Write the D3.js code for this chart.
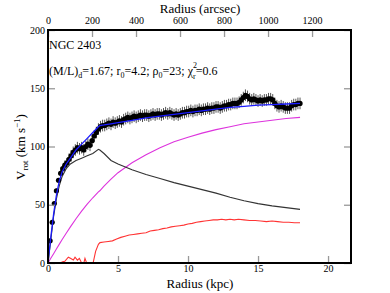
<!DOCTYPE html>
<html><head><meta charset="utf-8">
<script src="https://cdn.jsdelivr.net/npm/d3@7"></script>
<style>body{margin:0;background:#fff}svg{display:block}text{font-family:"Liberation Serif","Times New Roman",serif;fill:#000}</style>
</head><body><svg id="c" width="390" height="293"></svg>
<script>
// Observed rotation curve (kpc, km/s, error)
const obsR = [0.15,0.30,0.45,0.60,0.75,0.90,1.05,1.20,1.35,1.50,1.65,1.80,1.95,2.10,2.25,2.40,2.55,2.70,2.85,3.00,
3.15,3.30,3.45,3.60,3.75,3.90,4.05,4.20,4.35,4.50,4.65,4.80,4.95,5.10,5.25,5.40,5.55,5.70,5.85,6.00,
6.15,6.30,6.45,6.60,6.75,6.90,7.05,7.20,7.35,7.50,7.65,7.80,7.95,8.10,8.25,8.40,8.55,8.70,8.85,9.00,
9.15,9.30,9.45,9.60,9.75,9.90,10.05,10.20,10.35,10.50,10.65,10.80,10.95,11.10,11.25,11.40,11.55,11.70,11.85,12.00,
12.15,12.30,12.45,12.60,12.75,12.90,13.05,13.20,13.35,13.50,13.65,13.80,13.95,14.10,14.25,14.40,14.55,14.70,14.85,15.00,
15.15,15.30,15.45,15.60,15.75,15.90,16.05,16.20,16.35,16.50,16.65,16.80,16.95,17.10,17.25,17.40,17.55,17.70,17.85,18.00];
const obsV = [19,35,51,62,71,77,81,84,86,89,92,95,97,99,98,99,97,100,102,101,
105,109,112,115,117,118,118,119,120,119,121,120,121,122,121,123,124,125,124,125,
126,125,126,127,126,127,127,126,127,128,127,128,128,127,128,129,128,129,128,127,
128,127,128,129,129,130,130,131,130,131,131,132,131,132,132,133,132,133,133,134,
134,133,134,135,135,136,136,137,137,137,138,140,142,144,143,141,140,141,140,139,
140,139,140,140,141,141,140,137,135,134,135,134,133,133,133,135,136,136,137,137];
const obsE = [2,2,2,2,2,3,3,4,4,5,5,5,5,5,5,5,5,5,5,5,
5,5,5,5,5,5,5,5,5,5,5,5,5,5,5,5,5,5,5,5,
5,5,5,5,5,5,5,5,5,5,5,5,5,5,5,5,5,5,5,5,
5,5,5,5,5,5,5,5,5,5,5,5,5,5,5,5,5,5,5,5,
5,5,5,5,5,5,5,5,5,5,5,5,5,5,5,5,5,5,5,5,
5,5,5,5,5,5,5,5,5,5,5,5,5,5,5,5,5,5,5,5];

// Model components
const modR  = [0,0.2,0.4,0.6,0.8,1.0,1.3,1.6,2.0,2.4,2.8,3.2,3.6,3.7,4.0,4.5,5,6,7,8,9,10,11,12,13,14,15,16,17,18];
const totV  = [0,22,42,58,70,78,85,90,97,102,107,112,117,118,118.5,119.5,120.5,122.5,124.5,126,127.5,129,130.5,132,133.5,134.5,135.5,136,136.5,137];
const diskV = [0,20,40,55,66,74,81,85,88,90,92,94,97.6,97,94,88,85,80,76,72.5,69,66,63,60,56.5,53.5,51,49,47.5,46];
const haloV = [0,4,8,12,16,20,25.5,31,38,44.5,50.5,56,61,62,66,72,77.5,86,93,99,104,108,111.5,114.5,117,119.5,121,122.5,124,125];

const gasR = [0.2,0.3,0.5,0.55,0.9,1.0,1.2,1.45,1.6,1.81,1.93,2.1,2.24,2.4,2.5,2.64,2.76,2.85,3.15,3.24,3.4,3.6,3.71,4.0,4.3,4.6,4.9,5.2,5.5,5.8,6.1,6.4,6.7,7.0,7.3,7.6,7.9,8.2,8.5,8.8,9.1,9.4,9.7,10.0,10.3,10.6,10.9,11.2,11.5,11.8,12.1,12.4,12.7,13.0,13.3,13.6,14.0,14.4,14.8,15.2,15.6,16.0,16.4,16.8,17.2,17.6,18.0];
const gasV = [-3,0.4,0.4,-3,-3,0.8,1.5,5,4,2.6,5,2.5,4,0,-3,4,0,-3,-3,1,10,16,17.5,18,18.5,19,20.5,22,23,24,24.5,25,25.5,26,27.5,28,28.5,29.5,30,31,31.5,32,32.5,33.5,34,35,35.5,36,36.5,37,37,37.5,37,37.5,37,37.5,37,36.5,36.5,36,35.5,36,35.5,35,35,34.5,34.5];

const xTicks = [0,5,10,15,20];
const yTicks = [0,50,100,150,200];
const arcTicks = [0,200,400,600,800,1000,1200];

const L=48,R=351,T=30,B=263;
const x = d3.scaleLinear().domain([0,21.64]).range([L,R]);
const xa = d3.scaleLinear().domain([0,1377]).range([L,R]);
const y = d3.scaleLinear().domain([0,200]).range([B,T]);
const svg = d3.select("#c");

svg.append("defs").append("clipPath").attr("id","cp").append("rect")
  .attr("x",L).attr("y",T).attr("width",R-L).attr("height",B-T);

const g = svg.append("g").attr("clip-path","url(#cp)");
const line = (rs,vs)=>d3.line().x((d,i)=>x(rs[i])).y(d=>y(d))(vs);

g.append("path").attr("d",line(modR,haloV)).attr("fill","none").attr("stroke","#dd33dd").attr("stroke-width",1.1);
g.append("path").attr("d",line(gasR,gasV)).attr("fill","none").attr("stroke","#ff3333").attr("stroke-width",1.1);
g.append("path").attr("d",line(modR,diskV)).attr("fill","none").attr("stroke","#333").attr("stroke-width",1.1);

// error bars
g.selectAll("line.eb").data(obsV).enter().append("line")
  .attr("x1",(d,i)=>x(obsR[i])).attr("x2",(d,i)=>x(obsR[i]))
  .attr("y1",(d,i)=>y(d-obsE[i])).attr("y2",(d,i)=>y(d+obsE[i]))
  .attr("stroke","#555").attr("stroke-width",1);
g.selectAll("circle").data(obsV).enter().append("circle")
  .attr("cx",(d,i)=>x(obsR[i])).attr("cy",d=>y(d)).attr("r",2.6).attr("fill","#000");
g.append("path").attr("d",line(modR,totV)).attr("fill","none").attr("stroke","#1a1aff").attr("stroke-width",1.3);

// axes
const tk="#999";
const axB = svg.append("g").attr("transform",`translate(0,${B})`)
  .call(d3.axisTop(x).tickValues(xTicks).tickSize(7).tickFormat(d3.format("d")));
axB.selectAll("text").attr("y",2).attr("dy","0.71em");
const axT = svg.append("g").attr("transform",`translate(0,${T})`)
  .call(d3.axisBottom(xa).tickValues(arcTicks).tickSize(7).tickFormat(d3.format("d")));
axT.selectAll("text").attr("y",-6).attr("dy","0");
const axL = svg.append("g").attr("transform",`translate(${L},0)`)
  .call(d3.axisRight(y).tickValues(yTicks).tickSize(7).tickFormat(d3.format("d")));
axL.selectAll("text").attr("x",-3).attr("text-anchor","end");
const axR = svg.append("g").attr("transform",`translate(${R},0)`)
  .call(d3.axisLeft(y).tickValues(yTicks).tickSize(7).tickFormat(""));
[axB,axT,axL,axR].forEach(a=>{
  a.select(".domain").remove();
  a.selectAll("line").attr("stroke",tk).attr("stroke-width",1.3);
  a.selectAll("text").style("font-family",'"Liberation Serif",serif').style("font-size","10px").attr("fill","#000");
});
svg.append("rect").attr("x",L).attr("y",T).attr("width",R-L).attr("height",B-T)
  .attr("fill","none").attr("stroke","#000").attr("stroke-width",2);

// titles
svg.append("text").attr("x",200).attr("y",13).attr("text-anchor","middle").style("font-size","13px").text("Radius (arcsec)");
svg.append("text").attr("x",200).attr("y",288).attr("text-anchor","middle").style("font-size","13px").text("Radius (kpc)");
const yl = svg.append("text").attr("transform","translate(25,147) rotate(-90)").attr("text-anchor","middle").style("font-size","13px");
yl.append("tspan").text("V");
yl.append("tspan").attr("dy",3).style("font-size","9px").text("rot");
yl.append("tspan").attr("dy",-3).text(" (km s");
yl.append("tspan").attr("dy",-5).style("font-size","9px").text("−1");
yl.append("tspan").attr("dy",5).text(")");

svg.append("text").attr("x",49).attr("y",49).style("font-size","12px").text("NGC 2403");
const an = svg.append("text").attr("x",49).attr("y",75).style("font-size","12px");
an.append("tspan").text("(M/L)");
an.append("tspan").attr("dy",3).style("font-size","8px").text("d");
an.append("tspan").attr("dy",-3).text("=1.67; r");
an.append("tspan").attr("dy",3).style("font-size","8px").text("0");
an.append("tspan").attr("dy",-3).text("=4.2; ρ");
an.append("tspan").attr("dy",3).style("font-size","8px").text("0");
an.append("tspan").attr("dy",-3).text("=23; χ");
an.append("tspan").attr("dy",-7).style("font-size","8px").text("2");
an.append("tspan").attr("dx",-4).attr("dy",11).style("font-size","8px").text("r");
an.append("tspan").attr("dy",-4).text("=0.6");
</script></body></html>
